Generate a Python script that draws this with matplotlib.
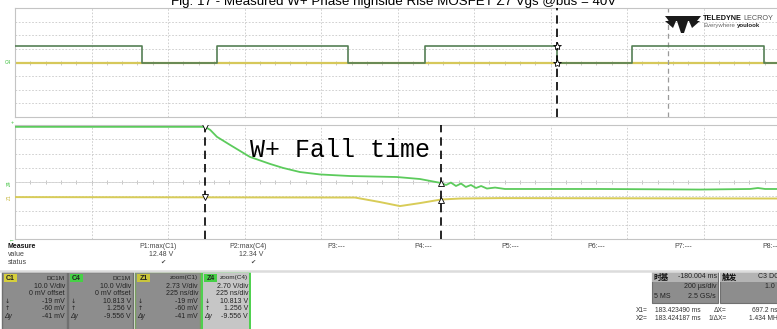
import matplotlib
matplotlib.use("Agg")
import matplotlib.pyplot as plt
from matplotlib.patches import Rectangle, Polygon
import numpy as np

plt.rcParams['font.family'] = ['Liberation Sans', 'DejaVu Sans']

W, H = 777, 329

# ---------------- data ----------------
title_text = "Fig. 17 - Measured W+ Phase highside Rise MOSFET Z7 Vgs @bus = 40V"

# upper (200 us/div, 10 V/div): C4 square wave edges and levels
c4_edges_us = [332, 528, 871, 1072, 1417, 1613, 1958]
c4_high_v = 12.34
c4_low_v = 0.0
c1_level_v = 0.0
upper_cursor_us = 1417
upper_zoom_mark_us = 1707

# lower zoom (225 ns/div), traces in divisions
z4_time_ns = [0, 559, 574, 594, 632, 691, 750, 788, 838, 897, 985, 1123, 1191, 1253,
              1268, 1282, 1297, 1312, 1326, 1341, 1356, 1371, 1388, 1412, 1441, 1515,
              1721, 2015, 2162, 2185, 2206, 2250]
z4_div = [3.87, 3.87, 3.66, 3.17, 2.61, 1.76, 1.27, 0.99, 0.70, 0.53, 0.42, 0.35, 0.21, -0.07,
          -0.21, -0.04, -0.28, -0.11, -0.35, -0.21, -0.42, -0.28, -0.46, -0.39, -0.49, -0.49,
          -0.49, -0.53, -0.49, -0.42, -0.49, -0.49]
z1_time_ns = [0, 1000, 1074, 1132, 1191, 1253, 1309, 1426, 2250]
z1_div = [-1.06, -1.09, -1.41, -1.69, -1.48, -1.23, -1.16, -1.13, -1.16]
cursor_ns = [559, 1253]

annot_text = "W+ Fall time"

measure_rows = ["Measure", "value", "status"]
param_labels = ["P1:max(C1)", "P2:max(C4)", "P3:---", "P4:---", "P5:---", "P6:---", "P7:---", "P8:---"]
param_values = ["12.48 V", "12.34 V"]

chan_names = ["C1", "C4", "Z1", "Z4"]
chan_head = ["DC1M", "DC1M", "zoom(C1)", "zoom(C4)"]
chan_lines = [
    ["10.0 V/div", "0 mV offset", "-19 mV", "-60 mV", "-41 mV"],
    ["10.0 V/div", "0 mV offset", "10.813 V", "1.256 V", "-9.556 V"],
    ["2.73 V/div", "225 ns/div", "-19 mV", "-60 mV", "-41 mV"],
    ["2.70 V/div", "225 ns/div", "10.813 V", "1.256 V", "-9.556 V"],
]
timebase = ["时基", "-180.004 ms", "200 µs/div", "5 MS", "2.5 GS/s"]
trigger = ["触发", "C3 DC", "1.0 V"]
cursor_rows = [["X1=", "183.423490 ms", "ΔX=", "697.2 ns"],
               ["X2=", "183.424187 ms", "1/ΔX=", "1.434 MHz"]]

# ---------------- figure ----------------
fig = plt.figure(figsize=(W / 100, H / 100), dpi=100)
fig.patch.set_facecolor('white')


def px_axes(l, t, r, b, z=1):
    ax = fig.add_axes([l / W, 1 - b / H, (r - l) / W, (b - t) / H])
    ax.set_zorder(z)
    return ax


GRID = '#c9c9c9'


def style_panel(ax, xmax, ymin, ymax):
    ax.set_xlim(0, xmax)
    ax.set_ylim(ymin, ymax)
    ax.set_xticks(np.linspace(0, xmax, 11))
    ax.set_yticks(np.linspace(ymin, ymax, 9))
    ax.tick_params(length=0, labelbottom=False, labelleft=False)
    ax.grid(True, color=GRID, linestyle=(0, (2, 2)), linewidth=0.6)
    for s in ax.spines.values():
        s.set_color('#c4c4c4')
        s.set_linewidth(0.8)
    ax.spines['right'].set_visible(False)
    ticks = np.linspace(0, xmax, 51)
    ax.plot(ticks, np.full_like(ticks, (ymin + ymax) / 2), linestyle='none', marker='|',
            markersize=2.5, color='#bdbdbd', mew=0.6)
    ax.axhline((ymin + ymax) / 2, color='#d2d2d2', lw=0.6)


# upper panel
up = px_axes(15, 8, 780, 117)
style_panel(up, 2000, -40, 40)
up.axhline(c1_level_v, color='#d6c85a', lw=1.6, zorder=2)
t = [0]
v = [c4_high_v]
level = c4_high_v
for e in c4_edges_us:
    t += [e, e]
    nxt = c4_low_v if level == c4_high_v else c4_high_v
    v += [level, nxt]
    level = nxt
t.append(2000)
v.append(level)
up.plot(t, v, color='#557f55', lw=1.2, zorder=3)
up.axvline(upper_cursor_us, color='black', lw=1.2, linestyle=(0, (5, 3)), zorder=4)
up.axvline(upper_zoom_mark_us, color='#9a9a9a', lw=0.9, linestyle=(0, (4, 3)), zorder=2)
up.plot([upper_cursor_us, upper_cursor_us], [c4_high_v, c4_low_v], linestyle='none',
        marker='*', markersize=6, mfc='white', mec='black', mew=0.6, zorder=5)

# lower panel
lo = px_axes(15, 125, 780, 239)
style_panel(lo, 2250, -4, 4)
lo.plot(z1_time_ns, z1_div, color='#d8cc58', lw=1.4, zorder=3)
lo.plot(z4_time_ns, z4_div, color='#5ccb5c', lw=1.3, zorder=3)
for cx in cursor_ns:
    lo.axvline(cx, color='black', lw=1.2, linestyle=(0, (5, 3)), zorder=4)
for cx, mk in zip(cursor_ns, ['v', '^']):
    for tt, dd in ((z4_time_ns, z4_div), (z1_time_ns, z1_div)):
        lo.plot([cx], [np.interp(cx, tt, dd)], marker=mk, ms=4,
                mfc='white', mec='black', mew=0.6, zorder=5)

# overlay axes in pixel coordinates for screen decorations / text
bg = px_axes(0, 0, W, H, z=5)
bg.set_xlim(0, W)
bg.set_ylim(H, 0)
bg.axis('off')
bg.patch.set_alpha(0)

bg.text(394, 5.5, title_text, ha='center', va='baseline', fontsize=9.6, color='black')

# logo
bg.add_patch(Polygon([(665, 16), (701, 16), (697, 21), (688, 21), (684, 33), (681, 33),
                      (677, 21), (669, 21)], closed=True, fc='#1a1a1a', ec='none'))
bg.add_patch(Polygon([(665, 21), (676, 21), (673, 28)], closed=True, fc='#1a1a1a', ec='none'))
bg.add_patch(Polygon([(689, 21), (700, 21), (692, 28)], closed=True, fc='#1a1a1a', ec='none'))
bg.text(703, 18.5, "TELEDYNE", fontsize=5.2, fontweight='bold', color='#111', va='center')
bg.text(743, 18.5, "LECROY", fontsize=5.2, color='#555', va='center')
bg.text(704, 26, "Everywhere", fontsize=4.3, color='#666', va='center')
bg.text(737, 26, "youlook", fontsize=4.3, color='#222', fontweight='bold', va='center')

# left channel markers
bg.text(8, 62, "C4", fontsize=3.5, color='#3cc03c', ha='center', va='center')
bg.text(9, 183, "Z4", fontsize=3.5, color='#3cc03c', ha='center', va='center', rotation=90)
bg.text(9, 197, "Z1", fontsize=3.5, color='#c8b840', ha='center', va='center', rotation=90)
bg.text(12, 122, "+", fontsize=4, color='#3cc03c', ha='center', va='center')
bg.text(12, 240, "←", fontsize=4, color='#3cc03c', ha='center', va='center')

# annotation
bg.text(250, 150, annot_text, fontsize=18, family='Liberation Mono', color='black',
        va='center', ha='left')

# measurement table
for i, r in enumerate(measure_rows):
    bg.text(8, 246 + 8 * i, r, fontsize=5, color='#111' if i == 0 else '#444',
            fontweight='bold' if i == 0 else 'normal', va='center')
param_right = [177, 267, 345, 432, 519, 605, 692, 780]
for i, lab in enumerate(param_labels):
    bg.text(param_right[i], 246, lab, fontsize=5, color='#444', ha='right', va='center')
for i, val in enumerate(param_values):
    bg.text(param_right[i] - 4, 254, val, fontsize=5, color='#444', ha='right', va='center')
    bg.text(param_right[i] - 14, 262, "✔", fontsize=4.5, color='#444', ha='center', va='center',
            family='DejaVu Sans')
bg.plot([0, W], [270.5, 270.5], color='#dcdcdc', lw=1.8)

# channel boxes
box_x = [2, 68, 135, 202]
box_w = [65, 65, 65, 48]
box_fc = ['#8d8d8d', '#8d8d8d', '#8d8d8d', '#c6c6c6']
box_ec = ['#707070', '#707070', '#7aa060', '#4cd04c']
lab_fc = ['#d6cf3c', '#46d046', '#c8c43c', '#46d046']
for k in range(4):
    x0 = box_x[k]
    bg.add_patch(Rectangle((x0, 272), box_w[k], 62, fc=box_fc[k], ec=box_ec[k],
                           lw=1.0 if k < 3 else 1.4))
    bg.add_patch(Rectangle((x0 + 2, 274), 13, 8, fc=lab_fc[k], ec='none'))
    bg.text(x0 + 8.5, 278, chan_names[k], fontsize=5, fontweight='bold', color='#222',
            ha='center', va='center')
    xr = x0 + box_w[k] - 2
    bg.text(xr, 278, chan_head[k], fontsize=4.6, color='#222', ha='right', va='center')
    for j, s in enumerate(chan_lines[k]):
        bg.text(xr, 286 + 7.6 * j, s, fontsize=5, color='#222', ha='right', va='center')
    bg.text(x0 + 3, 286 + 7.6 * 2, "↓", fontsize=4.5, color='#222', va='center', family='DejaVu Sans')
    bg.text(x0 + 3, 286 + 7.6 * 3, "↑", fontsize=4.5, color='#222', va='center', family='DejaVu Sans')
    bg.text(x0 + 2, 286 + 7.6 * 4, "Δy", fontsize=4.8, color='#222', va='center', style='italic')

# timebase & trigger boxes
cjk = ['Noto Sans CJK SC', 'DejaVu Sans']
bg.add_patch(Rectangle((652, 272), 66, 31, fc='#8d8d8d', ec='#707070', lw=0.8))
bg.add_patch(Rectangle((652, 272), 66, 10, fc='#b4b4b4', ec='none'))
bg.add_patch(Rectangle((720, 272), 60, 31, fc='#8d8d8d', ec='#707070', lw=0.8))
bg.add_patch(Rectangle((720, 272), 60, 10, fc='#b4b4b4', ec='none'))
bg.text(654, 277, timebase[0], fontsize=5.5, fontweight='bold', color='#111', va='center', family=cjk)
bg.text(717, 277, timebase[1], fontsize=5, color='#222', ha='right', va='center')
bg.text(716, 287, timebase[2], fontsize=5, color='#222', ha='right', va='center')
bg.text(654, 297, timebase[3], fontsize=5, color='#222', ha='left', va='center')
bg.text(716, 297, timebase[4], fontsize=5, color='#222', ha='right', va='center')
bg.text(722, 277, trigger[0], fontsize=5.5, fontweight='bold', color='#111', va='center', family=cjk)
bg.text(758, 277, trigger[1], fontsize=5, color='#222', ha='left', va='center')
bg.text(765, 287, trigger[2], fontsize=5, color='#222', ha='left', va='center')

cur_x = [[636, 655, 714, 752], [636, 655, 709, 749]]
for i, row in enumerate(cursor_rows):
    for j, s in enumerate(row):
        bg.text(cur_x[i][j], 310 + 9 * i, s, fontsize=4.8, color='#333', ha='left', va='center')

fig.savefig('out.png', dpi=100, facecolor='white')
